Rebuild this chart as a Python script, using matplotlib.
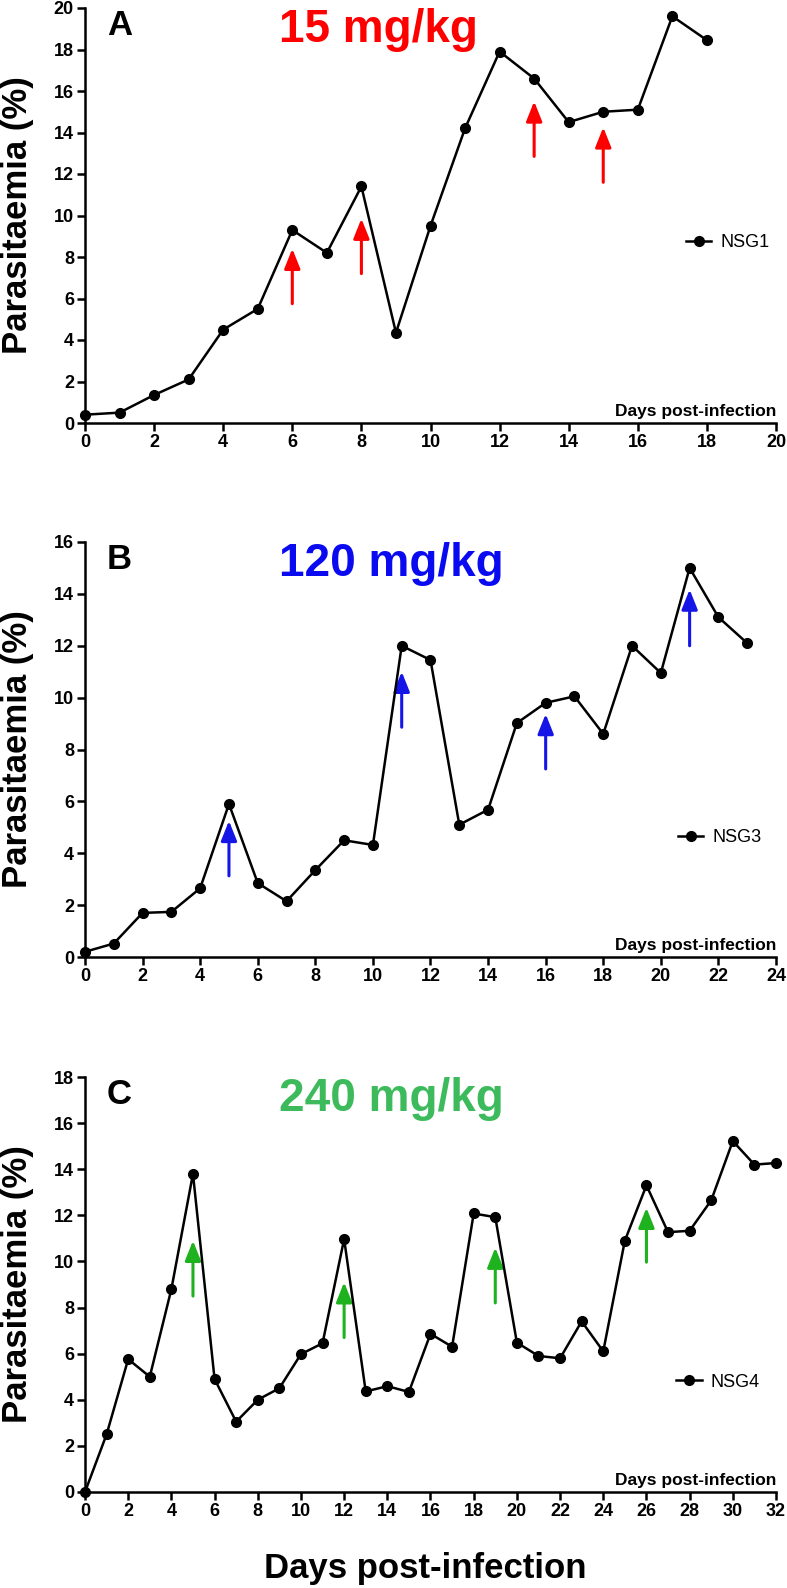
import numpy as np
import matplotlib
matplotlib.use('Agg')
import matplotlib.pyplot as plt

plt.rcParams['font.family'] = ['Liberation Sans', 'DejaVu Sans']

# panel A - 15 mg/kg, NSG1
days_a = list(range(0, 19))
para_a = [0.4, 0.5, 1.35, 2.1, 4.5, 5.5, 9.3, 8.2, 11.4, 4.35, 9.5, 14.2, 17.9, 16.6, 14.5, 15.0, 15.1, 19.6, 18.45]
arrows_a = [6, 8, 13, 15]
arrow_tip_a = [8.4, 9.85, 15.5, 14.25]
arrow_tail_a = [5.75, 7.2, 12.85, 11.6]

# panel B - 120 mg/kg, NSG3
days_b = list(range(0, 24))
para_b = [0.2, 0.52, 1.7, 1.74, 2.65, 5.9, 2.85, 2.15, 3.35, 4.5, 4.32, 12.0, 11.45, 5.1, 5.68, 9.02, 9.8, 10.05, 8.6, 12.0, 10.95, 15.0, 13.1, 12.1]
arrows_b = [5, 11, 16, 21]
arrow_tip_b = [5.25, 11.0, 9.37, 14.17]
arrow_tail_b = [3.13, 8.86, 7.25, 12.0]

# panel C - 240 mg/kg, NSG4
days_c = list(range(0, 33))
para_c = [0.0, 2.5, 5.76, 5.0, 8.8, 13.8, 4.9, 3.05, 4.0, 4.5, 5.98, 6.45, 10.97, 4.36, 4.59, 4.34, 6.86, 6.3, 12.08, 11.92,
          6.48, 5.9, 5.8, 7.4, 6.1, 10.9, 13.3, 11.27, 11.33, 12.65, 15.22, 14.2, 14.27]
arrows_c = [5, 12, 19, 26]
arrow_tip_c = [10.9, 9.1, 10.6, 12.33]
arrow_tail_c = [8.5, 6.7, 8.2, 9.97]

W, H = 787, 1588
fig = plt.figure(figsize=(W / 100, H / 100), dpi=100)

ax_left = 85 / W
ax_w = (776 - 85) / W
ax_h = 415 / H

panels = [
    dict(days=days_a, vals=para_a, arr=arrows_a, tip=arrow_tip_a, tail=arrow_tail_a,
         xmax=20, ymax=20, bottom=423, letter='A', title='15 mg/kg', col='#ff0000', acol='#ff0000',
         name='NSG1', leg=(0.870, 0.435)),
    dict(days=days_b, vals=para_b, arr=arrows_b, tip=arrow_tip_b, tail=arrow_tail_b,
         xmax=24, ymax=16, bottom=957, letter='B', title='120 mg/kg', col='#0a0af0', acol='#1515e6',
         name='NSG3', leg=(0.858, 0.2875)),
    dict(days=days_c, vals=para_c, arr=arrows_c, tip=arrow_tip_c, tail=arrow_tail_c,
         xmax=32, ymax=18, bottom=1492, letter='C', title='240 mg/kg', col='#3dbb5c', acol='#1fb21f',
         name='NSG4', leg=(0.856, 0.265)),
]

for p in panels:
    ax = fig.add_axes([ax_left, 1 - p['bottom'] / H, ax_w, ax_h])
    ax.plot(p['days'], p['vals'], color='black', lw=1.8, marker='o', ms=7, clip_on=False, zorder=5,
            label=p['name'])
    for x, t0, t1 in zip(p['arr'], p['tail'], p['tip']):
        ax.annotate('', xy=(x, t1), xytext=(x, t0),
                    arrowprops=dict(arrowstyle='-|>,head_width=0.4,head_length=1.0', mutation_scale=12,
                                    lw=2.2, color=p['acol'], shrinkA=0, shrinkB=0))
    ax.set_xlim(0, p['xmax'])
    ax.set_ylim(0, p['ymax'])
    ax.set_xticks(np.arange(0, p['xmax'] + 1, 2))
    ax.set_yticks(np.arange(0, p['ymax'] + 1, 2))
    ax.spines['top'].set_visible(False)
    ax.spines['right'].set_visible(False)
    for s in ['left', 'bottom']:
        ax.spines[s].set_linewidth(1.8)
    ax.tick_params(width=1.8, length=6, labelsize=13, pad=2)
    for lab in ax.get_xticklabels() + ax.get_yticklabels():
        lab.set_fontweight('bold')

    ax.text(0.032, 0.935, p['letter'], transform=ax.transAxes, fontsize=25, fontweight='bold')
    ax.text(0.281, 0.918, p['title'], transform=ax.transAxes, fontsize=33, fontweight='bold', color=p['col'])
    ax.text(1.0, 0.017, 'Days post-infection', transform=ax.transAxes, ha='right', va='baseline',
            fontsize=12.5, fontweight='bold')
    ax.legend(loc='center left', bbox_to_anchor=p['leg'], frameon=False, fontsize=13,
              handlelength=1.4, handletextpad=0.5, borderpad=0, borderaxespad=0)

    yc = 1 - (p['bottom'] - 207.5) / H
    fig.text(17.5 / W, yc, 'Parasitaemia (%)', rotation=90, ha='center', va='center',
             fontsize=25, fontweight='bold')

fig.text(425.5 / W, 1 - 1578 / H, 'Days post-infection', ha='center', va='baseline',
         fontsize=25, fontweight='bold')

fig.savefig('out.png', dpi=100)
